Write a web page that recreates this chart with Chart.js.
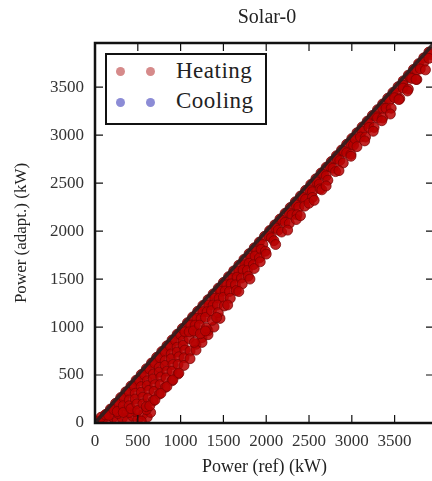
<!DOCTYPE html>
<html>
<head>
<meta charset="utf-8">
<script src="https://cdn.jsdelivr.net/npm/chart.js@4/dist/chart.umd.min.js"></script>
<style>
  body { margin: 0; overflow: hidden; background: #fff; }
  #wrap { position: relative; width: 440px; height: 481px; }
  #title { position: absolute; left: 95px; width: 344px; top: 5px; text-align: center;
           font: 20px 'Liberation Serif', serif; line-height: 22px; color: #222; }
  #legend { position: absolute; left: 105px; top: 53px; width: 162px; height: 72px; box-sizing: border-box;
            border: 2px solid #111; background: #fff; font: 23px 'Liberation Serif', serif; color: #222; }
  .dot { position: absolute; width: 9px; height: 9px; border-radius: 50%; }
  .lab { position: absolute; left: 69px; line-height: 26px; letter-spacing: 0.5px; }
</style>
</head>
<body>
<div id="wrap">
  <canvas id="solarChart" width="440" height="481"></canvas>
  <div id="title">Solar-0</div>
  <div id="legend">
    <div class="dot" style="left:9px;top:12px;background:rgb(214,138,138)"></div>
    <div class="dot" style="left:39px;top:12px;background:rgb(214,138,138)"></div>
    <div class="lab" style="top:3px">Heating</div>
    <div class="dot" style="left:9px;top:43px;background:rgb(140,140,214)"></div>
    <div class="dot" style="left:39px;top:43px;background:rgb(140,140,214)"></div>
    <div class="lab" style="top:33px">Cooling</div>
  </div>
</div>
<script>
// axis setup
const axisMax = 3960;
const tickVals = [0, 500, 1000, 1500, 2000, 2500, 3000, 3500];

// heating: reference power vs adapted power (kW)
const heatRef = [
  30, 90, 150, 210, 260, 320, 380, 440, 500, 560, 610, 650, 600, 540, 470, 400, 330, 270, 200, 130, 70,
  120, 180, 240, 300, 360, 420, 480, 540, 600, 660, 720, 780, 840, 900, 960,
  160, 220, 280, 340, 400, 460, 520, 580, 640, 700, 760, 820, 880, 940, 1000,
  260, 330, 400, 470, 540, 610, 680, 750, 820, 890, 960, 1030,
  330, 400, 470, 540, 610, 680, 750, 820, 890, 960, 1030, 1100, 1170,
  420, 490, 560, 630, 700, 770, 840, 910, 980, 1050,
  500, 560, 620, 690, 760, 830, 900, 970, 1040, 1110, 1180, 1250, 1320,
  600, 680, 750, 820, 900, 970, 1040, 1110, 1180, 1250, 1320, 1390, 1460,
  640, 700, 770, 840, 910, 980,
  1020, 1080, 1140, 1200, 1260, 1320, 1380, 1440, 1500, 1560, 1620, 1680, 1740, 1800, 1860, 1920, 1980,
  1050, 1120, 1190, 1260, 1330, 1400, 1470, 1540, 1610, 1680, 1750, 1820, 1890, 1960,
  1100, 1170, 1240, 1310, 1380, 1450, 1520, 1590, 1660, 1730, 1800, 1870, 1940,
  1150, 1220, 1290, 1360, 1430, 1500, 1570, 1640, 1710, 1780, 1850, 1920, 1990,
  1230, 1300, 1370, 1440, 1510, 1580, 1650, 1720, 1790, 1860, 1930, 2000,
  1160, 1290, 1420, 1550, 1680, 1810,
  2040, 2100, 2160, 2220, 2280, 2340, 2400, 2460, 2520, 2580, 2640, 2700, 2760, 2820, 2880, 2940, 3000,
  2030, 2110, 2190, 2270, 2350, 2430, 2510, 2590, 2670, 2750, 2830, 2910, 2990,
  2060, 2140, 2220, 2300, 2380, 2460, 2540, 2620, 2700, 2780, 2860, 2940, 3020,
  2090, 2180, 2270, 2360, 2450, 2540, 2630, 2720, 2810, 2900, 2990,
  2110, 2250, 2350, 2400, 2500, 2560, 2650, 2700, 2850, 2990,
  3060, 3120, 3180, 3240, 3300, 3360, 3420, 3480, 3540, 3600, 3660, 3720, 3780, 3840, 3900,
  3040, 3120, 3200, 3280, 3360, 3440, 3520, 3600, 3680, 3760, 3840, 3920,
  3100, 3200, 3300, 3400, 3500, 3600, 3700, 3800, 3900,
  3060, 3160, 3260, 3360, 3460, 3560, 3660, 3760, 3860,
  3150, 3250, 3350, 3450, 3550, 3650, 3750
];
const heatAdapt = [
  20, 40, 30, 60, 20, 50, 30, 70, 40, 90, 60, 110, 140, 20, 120, 110, 130, 100, 140, 90, 60,
  85, 145, 205, 265, 325, 385, 445, 505, 565, 625, 685, 745, 805, 865, 925,
  80, 140, 200, 260, 320, 380, 440, 500, 560, 620, 680, 740, 800, 860, 920,
  120, 180, 240, 310, 380, 440, 510, 580, 650, 720, 790, 860,
  110, 180, 250, 320, 390, 460, 530, 600, 670, 740, 810, 880, 950,
  150, 200, 270, 340, 400, 480, 540, 610, 690, 760,
  130, 200, 260, 330, 400, 470, 540, 610, 680, 750, 820, 890, 960,
  170, 230, 300, 370, 440, 510, 600, 670, 760, 840, 920, 1000, 1090,
  180, 240, 310, 380, 450, 520,
  985, 1045, 1105, 1165, 1225, 1285, 1345, 1405, 1465, 1525, 1585, 1645, 1705, 1765, 1825, 1885, 1945,
  950, 1020, 1090, 1160, 1230, 1300, 1370, 1440, 1510, 1580, 1650, 1720, 1790, 1860,
  950, 1020, 1090, 1160, 1230, 1300, 1375, 1450, 1520, 1595, 1665, 1740, 1810,
  960, 1020, 1100, 1170, 1230, 1310, 1370, 1440, 1510, 1590, 1650, 1720, 1790,
  930, 990, 1070, 1150, 1220, 1300, 1380, 1450, 1530, 1610, 1680, 1760,
  840, 960, 1100, 1230, 1370, 1500,
  2005, 2065, 2125, 2185, 2245, 2305, 2365, 2425, 2485, 2545, 2605, 2665, 2725, 2785, 2845, 2905, 2965,
  1950, 2030, 2110, 2190, 2270, 2350, 2430, 2510, 2590, 2670, 2750, 2830, 2910,
  1930, 2010, 2090, 2170, 2250, 2330, 2410, 2490, 2575, 2655, 2735, 2815, 2895,
  1900, 1990, 2080, 2170, 2260, 2350, 2440, 2530, 2620, 2710, 2800,
  1860, 2010, 2120, 2160, 2290, 2320, 2430, 2470, 2630, 2780,
  3025, 3085, 3145, 3205, 3265, 3325, 3385, 3445, 3505, 3565, 3625, 3685, 3745, 3805, 3865,
  2960, 3040, 3120, 3200, 3280, 3360, 3440, 3520, 3600, 3680, 3760, 3840,
  2980, 3080, 3180, 3280, 3390, 3490, 3590, 3690, 3800,
  2880, 2980, 3080, 3180, 3280, 3380, 3480, 3580, 3680,
  2940, 3040, 3150, 3220, 3370, 3460, 3580
];

// cooling: no points in this case
const coolRef = [];
const coolAdapt = [];

// identity line
const idealX = [0, axisMax];
const idealY = [0, axisMax];

const serif = "'Liberation Serif', serif";

const framePlugin = {
  id: 'frame',
  afterDatasetsDraw(chart) {
    const { ctx, chartArea: a, scales: { x, y } } = chart;
    ctx.save();
    ctx.strokeStyle = '#111';
    ctx.lineWidth = 1.2;
    ctx.beginPath();
    tickVals.forEach(v => {
      const px = x.getPixelForValue(v), py = y.getPixelForValue(v);
      ctx.moveTo(px, a.bottom); ctx.lineTo(px, a.bottom - 8);
      ctx.moveTo(px, a.top); ctx.lineTo(px, a.top + 8);
      ctx.moveTo(a.left, py); ctx.lineTo(a.left + 8, py);
      ctx.moveTo(a.right, py); ctx.lineTo(a.right - 8, py);
    });
    ctx.stroke();
    ctx.lineWidth = 2.5;
    ctx.strokeRect(a.left, a.top, a.width, a.height);
    ctx.restore();
  }
};

function axis(pos, label) {
  return {
    type: 'linear', position: pos, min: 0, max: axisMax,
    grid: { display: false, drawTicks: false }, border: { display: false },
    afterBuildTicks: s => { s.ticks = tickVals.map(v => ({ value: v })); },
    ticks: { autoSkip: false, maxRotation: 0, color: '#333', font: { family: serif, size: 17 },
             padding: pos === 'bottom' ? 8 : 11, callback: v => String(v) },
    title: { display: true, text: label, color: '#222', font: { family: serif, size: pos === 'bottom' ? 18 : 17 },
             padding: pos === 'bottom' ? { top: 0, bottom: 3 } : { top: 11, bottom: 0 } },
    afterFit: s => { if (pos === 'bottom') s.height = 58; else s.width = 95; }
  };
}

new Chart(document.getElementById('solarChart'), {
  type: 'scatter',
  data: {
    datasets: [
      {
        type: 'line', label: 'ideal', order: 0,
        data: idealX.map((v, i) => ({ x: v, y: idealY[i] })),
        borderColor: 'rgba(45,30,30,0.9)', borderWidth: 3.5, pointRadius: 0
      },
      {
        label: 'Heating', order: 1,
        data: heatRef.map((v, i) => ({ x: v, y: heatAdapt[i] })),
        backgroundColor: 'rgba(185,0,0,0.85)', borderColor: 'rgba(120,0,0,0.75)', borderWidth: 1,
        pointRadius: 5
      },
      {
        label: 'Cooling', order: 2,
        data: coolRef.map((v, i) => ({ x: v, y: coolAdapt[i] })),
        backgroundColor: 'rgba(0,0,195,0.55)', borderColor: 'rgba(0,0,100,0.6)', pointRadius: 5
      }
    ]
  },
  options: {
    responsive: false, animation: false,
    layout: { padding: { top: 43, right: 1, bottom: 0, left: 0 } },
    plugins: { legend: { display: false }, tooltip: { enabled: false } },
    scales: {
      x: axis('bottom', 'Power (ref) (kW)'),
      y: axis('left', 'Power (adapt.) (kW)')
    }
  },
  plugins: [framePlugin]
});
</script>
</body>
</html>
